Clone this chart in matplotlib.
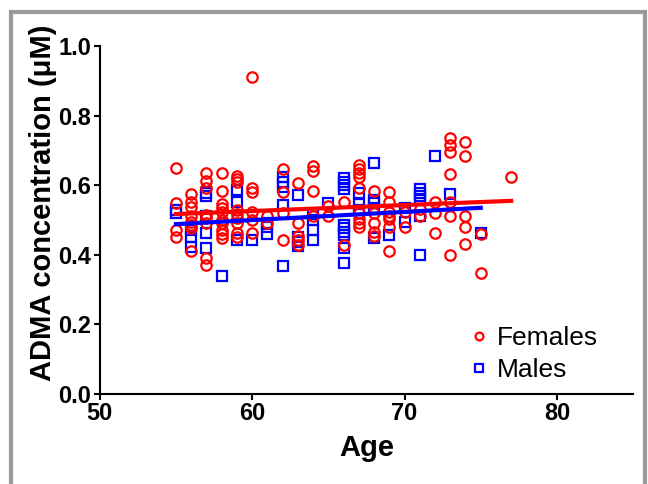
import matplotlib
matplotlib.use('Agg')
import matplotlib.pyplot as plt
from matplotlib.patches import Rectangle
import numpy as np

plt.rcParams['font.family'] = ['Liberation Sans', 'DejaVu Sans']

# females: age and ADMA (uM)
fem_age = ([55] * 4 + [56] * 8 + [57] * 8 + [58] * 10 + [59] * 9 + [60] * 6 + [61] * 2 +
           [62] * 4 + [63] * 5 + [64] * 4 + [65] * 2 + [66] * 2 + [67] * 9 + [68] * 5 +
           [69] * 7 + [70] * 2 + [71] * 2 + [72] * 3 + [73] * 7 + [74] * 5 + [75] * 2 + [77])
fem_adma = [0.65, 0.55, 0.47, 0.45,
            0.575, 0.553, 0.538, 0.51, 0.495, 0.486, 0.477, 0.41,
            0.634, 0.613, 0.591, 0.514, 0.505, 0.49, 0.39, 0.37,
            0.634, 0.583, 0.545, 0.534, 0.524, 0.5, 0.49, 0.471, 0.459, 0.449,
            0.626, 0.617, 0.61, 0.529, 0.517, 0.505, 0.49, 0.462, 0.45,
            0.91, 0.593, 0.581, 0.524, 0.5, 0.464,
            0.511, 0.492,
            0.646, 0.581, 0.521, 0.443,
            0.605, 0.492, 0.454, 0.443, 0.427,
            0.655, 0.642, 0.583, 0.511,
            0.54, 0.511,
            0.553, 0.428,
            0.658, 0.646, 0.634, 0.623, 0.593, 0.521, 0.502, 0.492, 0.479,
            0.583, 0.519, 0.49, 0.466, 0.454,
            0.581, 0.553, 0.524, 0.511, 0.502, 0.479, 0.411,
            0.524, 0.481,
            0.531, 0.51,
            0.553, 0.521, 0.462,
            0.737, 0.716, 0.695, 0.632, 0.553, 0.511, 0.4,
            0.725, 0.684, 0.51, 0.481, 0.431,
            0.46, 0.349,
            0.623]

# males
male_age = ([55] * 2 + [56] * 3 + [57] * 5 + [58] + [59] * 3 + [60] + [61] * 3 + [62] * 5 +
            [63] * 4 + [64] * 4 + [65] + [66] * 10 + [67] * 3 + [68] * 5 + [69] + [70] * 2 +
            [71] * 6 + [72] + [73] + [75])
male_adma = [0.53, 0.52,
             0.471, 0.452, 0.423,
             0.577, 0.569, 0.51, 0.462, 0.42,
             0.339,
             0.586, 0.553, 0.443,
             0.443,
             0.49, 0.481, 0.46,
             0.624, 0.61, 0.596, 0.543, 0.369,
             0.572, 0.452, 0.438, 0.425,
             0.517, 0.5, 0.471, 0.443,
             0.548,
             0.62, 0.61, 0.6, 0.588, 0.486, 0.476, 0.466, 0.457, 0.419, 0.377,
             0.577, 0.546, 0.529,
             0.665, 0.557, 0.548, 0.534, 0.447,
             0.457,
             0.534, 0.495,
             0.588, 0.578, 0.569, 0.557, 0.51, 0.4,
             0.684,
             0.575,
             0.462]

# regression lines (end points)
fem_fit_x = [55, 77]
fem_fit_y = [0.517, 0.555]
male_fit_x = [55, 75]
male_fit_y = [0.488, 0.535]

fig = plt.figure(figsize=(6.48, 4.84), dpi=100)
ax = fig.add_axes([0.154, 0.186, 0.823, 0.719])

ax.plot(male_age, male_adma, 's', ms=7, mfc='none', mec='#0000ff', mew=1.6, label='Males')
ax.plot(fem_age, fem_adma, 'o', ms=7.5, mfc='none', mec='#ff0000', mew=1.6, label='Females')
ax.plot(male_fit_x, male_fit_y, '-', color='#0000ff', lw=3)
ax.plot(fem_fit_x, fem_fit_y, '-', color='#ff0000', lw=3)

ax.set_xlim(50, 85)
ax.set_ylim(0, 1.0)
ax.set_xticks([50, 60, 70, 80])
ax.set_yticks([0.0, 0.2, 0.4, 0.6, 0.8, 1.0])
ax.set_yticklabels(['0.0', '0.2', '0.4', '0.6', '0.8', '1.0'])

for s in ['top', 'right']:
    ax.spines[s].set_visible(False)
for s in ['left', 'bottom']:
    ax.spines[s].set_linewidth(1.5)
ax.tick_params(direction='out', length=4, width=1.5, labelsize=17, pad=2)
for lab in ax.get_xticklabels() + ax.get_yticklabels():
    lab.set_fontweight('bold')

ax.set_xlabel('Age', fontsize=21, fontweight='bold', labelpad=6)
ax.set_ylabel('ADMA concentration (\u03bcM)', fontsize=21, fontweight='bold')
ax.yaxis.set_label_coords(-0.08, 0.55)

h, l = ax.get_legend_handles_labels()
ax.legend([h[1], h[0]], [l[1], l[0]], loc='lower left', bbox_to_anchor=(0.655, -0.035),
          frameon=False, fontsize=19, handlelength=0.5, handletextpad=0.4,
          labelspacing=0.3, markerscale=0.75)

# grey frame around the panel
fig.add_artist(Rectangle((11 / 648, -0.1), 634 / 648, 1.1 - 12 / 484, transform=fig.transFigure,
                         fill=False, edgecolor='#9a9a9a', lw=3, clip_on=False))

fig.savefig('out.png', dpi=100)
